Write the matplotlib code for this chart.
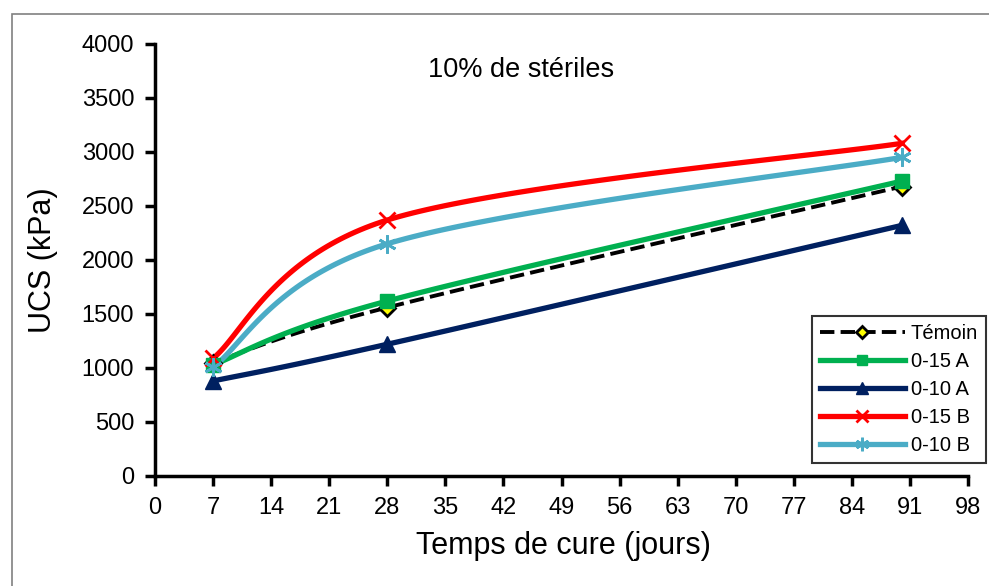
import numpy as np
import matplotlib
matplotlib.use("Agg")
import matplotlib.pyplot as plt
from matplotlib.patches import Rectangle

plt.rcParams['font.family'] = ['Liberation Sans', 'DejaVu Sans']

days = [7, 28, 90]
temoin = [1050, 1560, 2680]
a015 = [1030, 1620, 2730]
a010 = [880, 1220, 2320]
b015 = [1090, 2370, 3080]
b010 = [1010, 2150, 2950]
series_names = ["Témoin", "0-15 A", "0-10 A", "0-15 B", "0-10 B"]
xticks = list(range(0, 99, 7))
yticks = list(range(0, 4001, 500))


def smooth(x, y, n=60, t=0.5):
    x = np.asarray(x, float); y = np.asarray(y, float)
    P = np.column_stack([x, y])
    out = []
    for i in range(len(P) - 1):
        p0 = P[i - 1] if i > 0 else P[i]
        p1 = P[i]; p2 = P[i + 1]
        p3 = P[i + 2] if i + 2 < len(P) else P[i + 1]
        c1 = p1 + (p2 - p0) * t / 3
        c2 = p2 - (p3 - p1) * t / 3
        s = np.linspace(0, 1, n)[:, None]
        B = (1 - s) ** 3 * p1 + 3 * (1 - s) ** 2 * s * c1 + 3 * (1 - s) * s ** 2 * c2 + s ** 3 * p2
        out.append(B if i == 0 else B[1:])
    B = np.vstack(out)
    return B[:, 0], B[:, 1]


fig = plt.figure(figsize=(9.89, 5.86), dpi=100)
fig.patches.append(Rectangle((12 / 989, -0.05), 1.1, 1 - 14 / 586 + 0.05,
                             transform=fig.transFigure, fill=False,
                             edgecolor='#808080', linewidth=1.2))
ax = fig.add_axes([155 / 989, 1 - 476 / 586, (968 - 155) / 989, (476 - 44) / 586])

styles = [
    (temoin, 'black', '--', 'D', '#FFFF00', 'black', 8, 2.8),
    (a015, '#00B050', '-', 's', '#00B050', '#00B050', 10, 3.8),
    (a010, '#002060', '-', '^', '#002060', '#002060', 11, 3.8),
    (b015, '#FF0000', '-', 'x', '#FF0000', '#FF0000', 11, 3.8),
    (b010, '#4BACC6', '-', (6, 2, 0), '#4BACC6', '#4BACC6', 13, 3.8),
]
for (vals, col, ls, mk, mfc, mec, ms, lw), name in zip(styles, series_names):
    sx, sy = smooth(days, vals)
    ax.plot(sx, sy, color=col, linestyle=ls, linewidth=lw, zorder=2)
    thin = mk in ('D', 'x') or isinstance(mk, tuple)
    ax.plot(days, vals, linestyle='none', marker=mk, markersize=ms, markerfacecolor=mfc,
            markeredgecolor=mec, markeredgewidth=2 if thin else 1, zorder=3)
    ax.plot([], [], color=col, linestyle=ls, linewidth=lw, marker=mk, markersize=ms * 0.75,
            markerfacecolor=mfc, markeredgecolor=mec, markeredgewidth=2 if thin else 1,
            label=name)

ax.set_xlim(0, 98)
ax.set_ylim(0, 4000)
ax.set_xticks(xticks)
ax.set_yticks(yticks)
ax.tick_params(axis='both', labelsize=17, width=2.5, length=7, direction='out', pad=8)
for s in ['top', 'right']:
    ax.spines[s].set_visible(False)
for s in ['left', 'bottom']:
    ax.spines[s].set_linewidth(2.5)
ax.set_xlabel("Temps de cure (jours)", fontsize=22)
ax.set_ylabel("UCS (kPa)", fontsize=22)
ax.xaxis.set_label_coords(0.502, -0.128)
ax.yaxis.set_label_coords(-0.119, 0.5)
ax.text(0.45, 0.94, "10% de stériles", transform=ax.transAxes, fontsize=19.5,
        ha='center', va='center')
leg = ax.legend(loc='lower right', bbox_to_anchor=(1.022, 0.03), fontsize=14.5,
                handlelength=4.2, frameon=True, fancybox=False, borderpad=0.4,
                labelspacing=0.45, handletextpad=0.3, borderaxespad=0)
leg.get_frame().set_edgecolor('black')
leg.get_frame().set_linewidth(1.5)

fig.savefig("out.png", dpi=100)
